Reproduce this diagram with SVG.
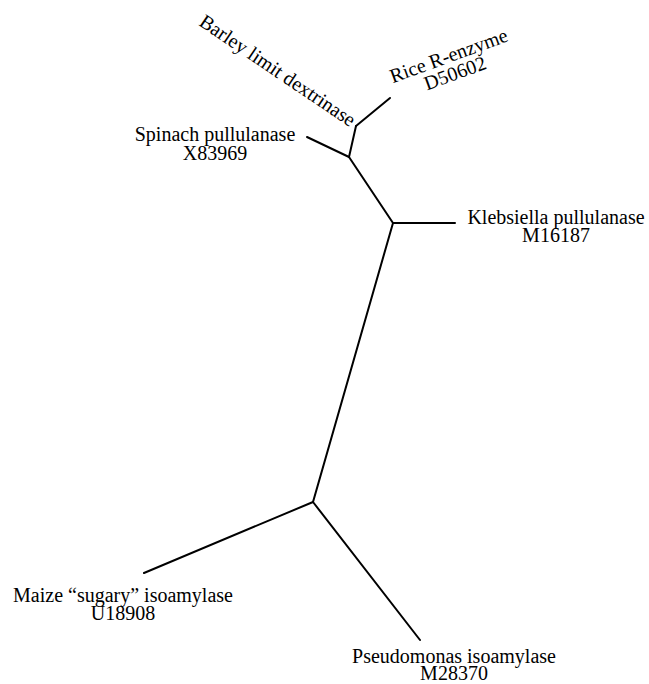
<svg xmlns="http://www.w3.org/2000/svg" width="649" height="684" viewBox="0 0 649 684">
<style>
text{font-family:"Liberation Serif","Times New Roman",serif;font-size:20px;fill:#000;text-anchor:middle}
.e{stroke:#000;stroke-width:2;fill:none;stroke-linecap:round}
</style>
<rect width="649" height="684" fill="#fff"/>
<g id="connectors">
<line class="e" x1="356" y1="126" x2="390" y2="98"/>
<line class="e" x1="356" y1="126" x2="349" y2="157"/>
<line class="e" x1="349" y1="157" x2="307" y2="137"/>
<line class="e" x1="349" y1="157" x2="393" y2="223"/>
<line class="e" x1="393" y1="223" x2="455" y2="223"/>
<line class="e" x1="393" y1="223" x2="313" y2="502"/>
<line class="e" x1="313" y1="502" x2="144" y2="573"/>
<line class="e" x1="313" y1="502" x2="420" y2="640"/>
</g>
<g id="barley" transform="translate(274,76) rotate(34)"><text x="0" y="0">Barley limit dextrinase</text></g>
<g id="rice" transform="translate(451,62) rotate(-20)"><text x="0" y="0">Rice R-enzyme</text><text x="0" y="18.5">D50602</text></g>
<g id="spinach"><text x="215" y="141">Spinach pullulanase</text><text x="215" y="159.5">X83969</text></g>
<g id="klebsiella"><text x="556" y="223.5">Klebsiella pullulanase</text><text x="556" y="242">M16187</text></g>
<g id="maize"><text x="123" y="601.5">Maize “sugary” isoamylase</text><text x="123" y="620">U18908</text></g>
<g id="pseudomonas"><text x="454" y="662.5">Pseudomonas isoamylase</text><text x="454" y="680">M28370</text></g>
</svg>
